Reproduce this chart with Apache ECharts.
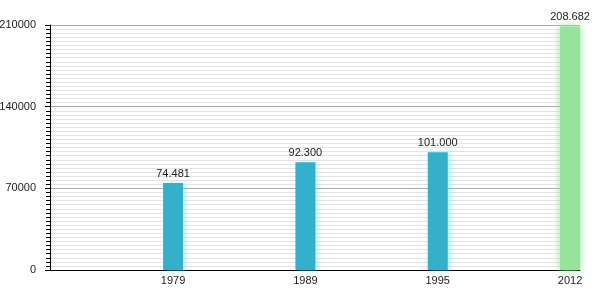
<!DOCTYPE html>
<html>
<head>
<meta charset="utf-8">
<script src="https://cdn.jsdelivr.net/npm/echarts@6/dist/echarts.min.js"></script>
<style>html,body{margin:0;padding:0;background:#fff}#c{width:600px;height:300px}</style>
</head>
<body>
<div id="c"></div>
<script>
var years = ['1979', '1989', '1995', '2012'];
var values = [74481, 92300, 101000, 208682];
var yTicks = [0, 70000, 140000, 210000];

var barColors = ['#35b0ca', '#35b0ca', '#35b0ca', '#98e39b'];
var glowColors = ['rgba(120,235,255,0.6)', 'rgba(120,235,255,0.6)', 'rgba(120,235,255,0.6)', 'rgba(152,227,155,1)'];

function fmt(v) {
  return String(v).replace(/\B(?=(\d{3})+(?!\d))/g, '.');
}

var chart = echarts.init(document.getElementById('c'), null, {renderer: 'canvas'});
var font = 'Liberation Sans, Arial, sans-serif';
chart.setOption({
  animation: false,
  grid: {left: 50, right: 20, top: 25, bottom: 30, containLabel: false, outerBoundsMode: 'none'},
  xAxis: {
    type: 'value',
    min: -0.93,
    max: 3.075,
    splitNumber: 4,
    axisLine: {show: true, onZero: false, lineStyle: {color: '#000', width: 1}},
    axisTick: {show: false},
    splitLine: {show: false},
    axisLabel: {
      showMinLabel: false, showMaxLabel: false,
      margin: 5, color: '#222', fontSize: 11, fontFamily: font,
      formatter: function (v) {
        return (Math.abs(v - Math.round(v)) < 1e-6 && years[Math.round(v)] !== undefined) ? years[Math.round(v)] : '';
      }
    }
  },
  yAxis: {
    type: 'value',
    min: yTicks[0],
    max: yTicks[yTicks.length - 1],
    interval: yTicks[1] - yTicks[0],
    axisLine: {show: true, onZero: false, lineStyle: {color: '#000', width: 1}},
    axisTick: {show: true, length: 5, lineStyle: {color: '#000'}},
    minorTick: {show: true, splitNumber: 20, length: 4, lineStyle: {color: '#000'}},
    splitLine: {show: true, lineStyle: {color: '#aaa', width: 1}},
    minorSplitLine: {show: true, lineStyle: {color: '#e4e4e4', width: 1}},
    axisLabel: {margin: 14, color: '#222', fontSize: 11, fontFamily: font,
      formatter: function (v) { return String(v); }}
  },
  series: [{
    type: 'bar',
    barWidth: 20,
    data: values.map(function (v, i) {
      return {
        value: [i, v],
        itemStyle: {color: barColors[i], shadowColor: glowColors[i], shadowBlur: i === 3 ? 8 : 5, shadowOffsetX: i === 3 ? 0 : 3}
      };
    }),
    label: {
      show: true, position: 'top', distance: 4,
      color: '#222', fontSize: 11, fontFamily: font,
      formatter: function (p) { return fmt(p.value[1]); }
    }
  }]
});
</script>
</body>
</html>
